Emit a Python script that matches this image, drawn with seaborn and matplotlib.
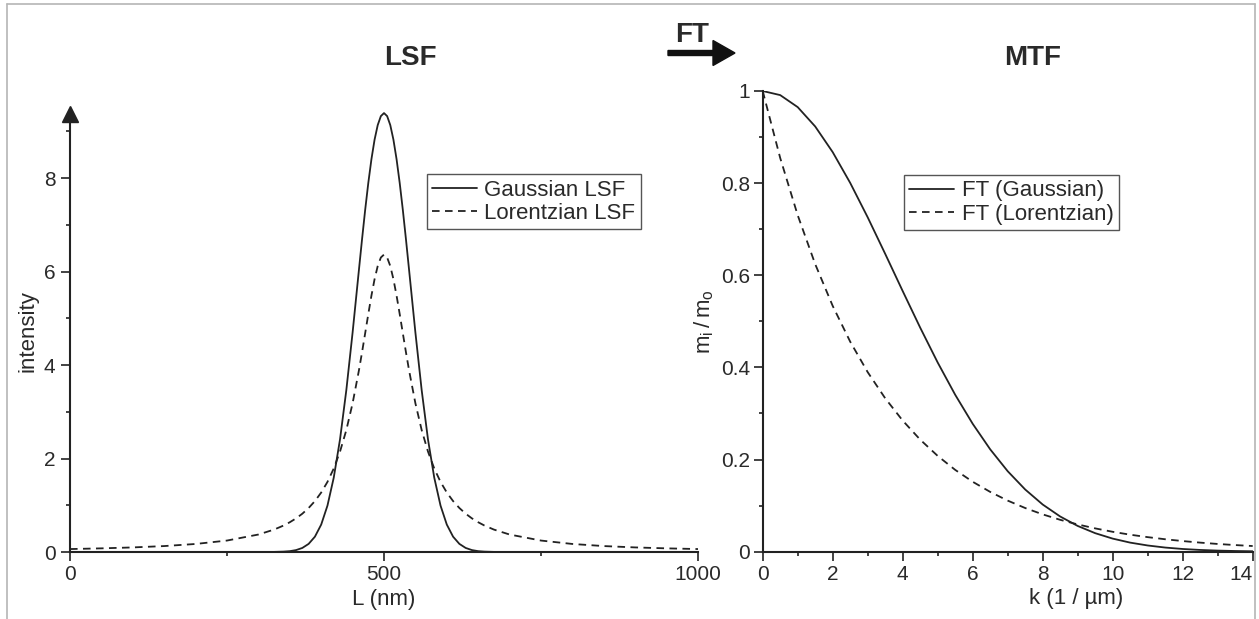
import matplotlib
matplotlib.use("Agg")
import matplotlib.pyplot as plt
import seaborn as sns
import pandas as pd
from matplotlib.ticker import MultipleLocator, FuncFormatter
from matplotlib.patches import FancyArrow
from matplotlib.lines import Line2D

# ---------------- data ----------------
L_nm = [0, 50, 100, 150, 200, 250, 300, 325, 340, 350, 360, 370, 380, 390, 400,
        410, 420, 430, 440, 450, 460, 465, 470, 475, 480, 485, 490, 495, 500,
        505, 510, 515, 520, 525, 530, 535, 540, 550,
        560, 570, 580, 590, 600, 610, 620, 630, 640, 650, 660, 675, 700, 750, 800,
        850, 900, 950, 1000]
gauss_lsf = [0.0, 0.0, 0.0, 0.0, 0.0, 0.0, 0.0, 0.002, 0.008, 0.018, 0.041, 0.087,
             0.174, 0.328, 0.587, 0.994, 1.593, 2.414, 3.463, 4.697, 6.028, 6.688,
             7.320, 7.899, 8.408, 8.826, 9.137, 9.329, 9.394,
             9.329, 9.137, 8.826, 8.408, 7.899, 7.320, 6.688, 6.028, 4.697,
             3.463, 2.414, 1.593, 0.994, 0.587, 0.328, 0.174, 0.087, 0.041, 0.018,
             0.008, 0.002, 0.0, 0.0, 0.0, 0.0, 0.0, 0.0, 0.0]
lorentz_lsf = [0.063, 0.078, 0.098, 0.127, 0.172, 0.245, 0.374, 0.480, 0.566, 0.637,
               0.720, 0.820, 0.942, 1.090, 1.273, 1.501, 1.788, 2.151, 2.609, 3.183,
               3.882, 4.272, 4.681, 5.093, 5.488, 5.840, 6.121, 6.303, 6.366,
               6.303, 6.121, 5.840, 5.488, 5.093, 4.681, 4.272, 3.882, 3.183,
               2.609, 2.151, 1.788, 1.501, 1.273, 1.090, 0.942, 0.820, 0.720, 0.637,
               0.566, 0.480, 0.374, 0.245, 0.172, 0.127, 0.098, 0.078, 0.063]

k_inv_um = [0, 0.5, 1, 1.5, 2, 2.5, 3, 3.5, 4, 4.5, 5, 5.5, 6, 6.5, 7, 7.5, 8, 8.5,
            9, 9.5, 10, 10.5, 11, 11.5, 12, 12.5, 13, 13.5, 14]
ft_gauss = [1.000, 0.9911, 0.9650, 0.9230, 0.8673, 0.8005, 0.7258, 0.6465, 0.5657,
            0.4863, 0.4106, 0.3406, 0.2776, 0.2222, 0.1747, 0.1350, 0.1024, 0.0764,
            0.0559, 0.0402, 0.0284, 0.0197, 0.0135, 0.0090, 0.0059, 0.0038, 0.0024,
            0.0015, 0.0009]
ft_lorentz = [1.000, 0.8546, 0.7304, 0.6242, 0.5335, 0.4559, 0.3897, 0.3330, 0.2846,
              0.2432, 0.2079, 0.1776, 0.1518, 0.1298, 0.1109, 0.0948, 0.0810, 0.0692,
              0.0592, 0.0506, 0.0432, 0.0369, 0.0316, 0.0270, 0.0231, 0.0197, 0.0168,
              0.0144, 0.0123]

lsf_labels = ["Gaussian LSF", "Lorentzian LSF"]
mtf_labels = ["FT (Gaussian)", "FT (Lorentzian)"]

# ---------------- style ----------------
sns.set_theme(style="ticks")
plt.rcParams["font.family"] = ["Liberation Sans", "DejaVu Sans"]
INK = "#222222"
TXT = "#2a2a2a"
plt.rcParams["text.color"] = TXT
plt.rcParams["axes.labelcolor"] = TXT

TICK_FS = 15
LABEL_FS = 16
LEG_FS = 16

W, H = 1259, 619
fig = plt.figure(figsize=(W / 100, H / 100), dpi=100)
fig.patch.set_facecolor("white")

ax1 = fig.add_axes([70 / W, 1 - 552 / H, 628 / W, 442 / H])
ax2 = fig.add_axes([762.7 / W, 1 - 551.7 / H, 490 / W, 460.7 / H])

lsf = pd.DataFrame({"L": L_nm, "g": gauss_lsf, "l": lorentz_lsf})
mtf = pd.DataFrame({"k": k_inv_um, "g": ft_gauss, "l": ft_lorentz})

LW = 1.3
DASH = (0, (4.2, 3.0))
sns.lineplot(data=lsf, x="L", y="g", ax=ax1, color=INK, lw=LW, label=lsf_labels[0],
             estimator=None, sort=False)
sns.lineplot(data=lsf, x="L", y="l", ax=ax1, color=INK, lw=LW, label=lsf_labels[1],
             estimator=None, sort=False, linestyle=DASH)
sns.lineplot(data=mtf, x="k", y="g", ax=ax2, color=INK, lw=LW, label=mtf_labels[0],
             estimator=None, sort=False)
sns.lineplot(data=mtf, x="k", y="l", ax=ax2, color=INK, lw=LW, label=mtf_labels[1],
             estimator=None, sort=False, linestyle=DASH)

for ax in (ax1, ax2):
    sns.despine(ax=ax)
    for s in ("left", "bottom"):
        ax.spines[s].set_linewidth(1.5)
        ax.spines[s].set_color(INK)
    ax.tick_params(which="major", direction="out", length=6.5, width=1.2,
                   colors=INK, labelcolor=TXT, labelsize=TICK_FS)
    ax.tick_params(which="minor", direction="out", length=3.2, width=1.2, colors=INK)
    ax.set_facecolor("white")

# left axes
ax1.set_xlim(0, 1000)
ax1.set_ylim(0, 9.46)
ax1.set_xticks([0, 500, 1000])
ax1.xaxis.set_minor_locator(MultipleLocator(250))
ax1.yaxis.set_major_locator(MultipleLocator(2))
ax1.yaxis.set_minor_locator(MultipleLocator(1))
ax1.xaxis.set_major_formatter(FuncFormatter(lambda v, p: f"{v:g}"))
ax1.yaxis.set_major_formatter(FuncFormatter(lambda v, p: f"{v:g}"))
ax1.tick_params(axis="y", which="major", pad=4)
ax1.tick_params(axis="x", which="major", pad=3)
ax1.plot([0], [9.38], marker="^", ms=11, color=INK, clip_on=False, zorder=5)
ax1.set_xlabel("L (nm)", fontsize=LABEL_FS)
ax1.set_ylabel("intensity", fontsize=LABEL_FS)
ax1.xaxis.set_label_coords(0.5, -0.083)
ax1.yaxis.set_label_coords(-0.05, 0.5)

# right axes
ax2.set_xlim(0, 14)
ax2.set_ylim(0, 1)
ax2.set_xticks([0, 2, 4, 6, 8, 10, 12, 14])
ax2.xaxis.set_minor_locator(MultipleLocator(1))
ax2.yaxis.set_major_locator(MultipleLocator(0.2))
ax2.yaxis.set_minor_locator(MultipleLocator(0.1))
ax2.xaxis.set_major_formatter(FuncFormatter(lambda v, p: f"{v:g}"))
ax2.yaxis.set_major_formatter(FuncFormatter(lambda v, p: f"{round(v, 1):g}"))
ax2.tick_params(axis="y", which="major", pad=2.5)
ax2.tick_params(axis="x", which="major", pad=3)
ax2.set_xlabel("k (1 / µm)", fontsize=LABEL_FS)
ax2.set_ylabel(r"$\mathregular{m_i\,/\,m_o}$", fontsize=LABEL_FS)
ax2.xaxis.set_label_coords(0.64, -0.079)
ax2.yaxis.set_label_coords(-0.095, 0.5)

# keep the last k tick label inside the figure
last_tick = ax2.xaxis.get_major_ticks()[-1]
last_tick.label1.set_horizontalalignment("right")

leg_kw = dict(loc="upper left", fontsize=LEG_FS, frameon=True, fancybox=False,
              handlelength=2.0, handletextpad=0.35, borderpad=0.25,
              labelspacing=0.1, borderaxespad=0)
lg1 = ax1.legend(bbox_to_anchor=(0.568, 0.855), **leg_kw)
lg2 = ax2.legend(bbox_to_anchor=(0.288, 0.818), **leg_kw)
for lg in (lg1, lg2):
    fr = lg.get_frame()
    fr.set_edgecolor("#555555")
    fr.set_linewidth(1.0)
    fr.set_alpha(1)

# titles and FT arrow
fig.text(410 / W, 1 - 58 / H, "LSF", ha="center", va="center",
         fontsize=20, fontweight="bold", color=TXT)
fig.text(1033 / W, 1 - 58 / H, "MTF", ha="center", va="center",
         fontsize=20, fontweight="bold", color=TXT)
fig.text(692 / W, 1 - 35 / H, "FT", ha="center", va="center",
         fontsize=20, fontweight="bold", color=TXT)
fig.add_artist(FancyArrow(6.68, (H - 53) / 100, 0.67, 0, width=0.05,
                          head_width=0.25, head_length=0.22,
                          length_includes_head=True, color="#111111",
                          transform=fig.dpi_scale_trans))

# thin gray frame around the figure
BC = "#b5b5b5"
fig.add_artist(Line2D([7 / W, 7 / W], [0, 1 - 4 / H], transform=fig.transFigure,
                      color=BC, lw=1.2))
fig.add_artist(Line2D([7 / W, 1255 / W], [1 - 4 / H, 1 - 4 / H],
                      transform=fig.transFigure, color=BC, lw=1.2))
fig.add_artist(Line2D([1255 / W, 1255 / W], [0, 1 - 4 / H],
                      transform=fig.transFigure, color=BC, lw=1.2))

fig.savefig("out.png", dpi=100, facecolor="white")
